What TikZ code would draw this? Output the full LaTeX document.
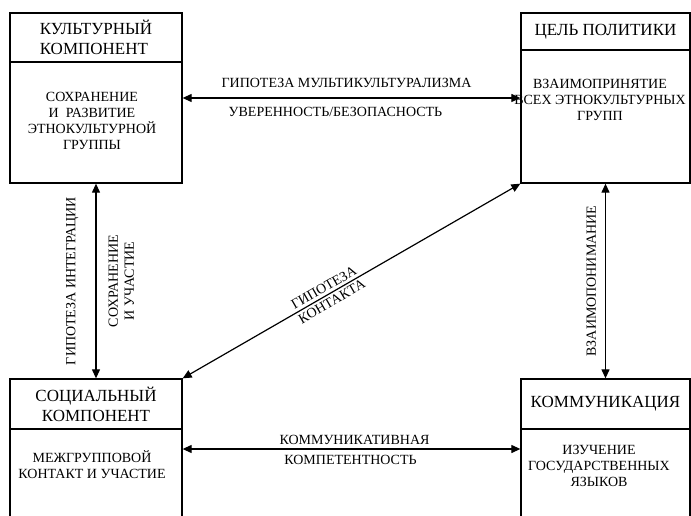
\documentclass[tikz,border=0pt]{standalone}
\usepackage{fontspec}
\setmainfont{Liberation Serif}
\usetikzlibrary{arrows.meta,positioning}

\begin{document}
\begin{tikzpicture}[x=1pt,y=-1pt,
		box/.style={draw,line width=1.3pt,inner sep=0pt},
		head/.style={draw,line width=1.3pt,anchor=north,align=center,inner sep=0pt,font=\fontsize{17}{20}\selectfont},
		txt/.style={align=center,inner sep=0pt,font=\fontsize{14}{16}\selectfont},
		lbl/.style={inner sep=0pt,font=\fontsize{14}{16}\selectfont},
		link/.style={{Triangle[length=9pt,width=8pt]}-{Triangle[length=9pt,width=8pt]},line width=1.2pt}]
	\useasboundingbox (0,0) rectangle (691,516);
	\clip (0,0) rectangle (691,516);
	\node[box,minimum width=172pt,minimum height=170pt] (cult) at (96,98) {};
	\node[box,minimum width=169pt,minimum height=170pt] (goal) at (605.5,98) {};
	\node[box,minimum width=172pt,minimum height=140pt] (soc) at (96,449) {};
	\node[box,minimum width=169pt,minimum height=140pt] (comm) at (605.5,449) {};
	\node[head,align=left,minimum width=172pt,minimum height=49pt] (cultH) at (cult.north) {КУЛЬТУРНЫЙ\\КОМПОНЕНТ};
	\node[head,minimum width=169pt,minimum height=37pt] (goalH) at (goal.north) {ЦЕЛЬ ПОЛИТИКИ};
	\node[head,minimum width=172pt,minimum height=50pt] (socH) at (soc.north) {СОЦИАЛЬНЫЙ\\КОМПОНЕНТ};
	\node[head,minimum width=169pt,minimum height=50pt] (commH) at (comm.north) {КОММУНИКАЦИЯ};
	\node[txt] (cultT) at (92,121) {СОХРАНЕНИЕ\\И~~РАЗВИТИЕ\\ЭТНОКУЛЬТУРНОЙ\\ГРУППЫ};
	\node[txt] (goalT) at (600,100) {ВЗАИМОПРИНЯТИЕ\\ВСЕХ ЭТНОКУЛЬТУРНЫХ\\ГРУПП};
	\node[txt] (socT) at (92,465) {МЕЖГРУППОВОЙ\\КОНТАКТ И УЧАСТИЕ};
	\node[txt] (commT) at (599,466) {ИЗУЧЕНИЕ\\ГОСУДАРСТВЕННЫХ\\ЯЗЫКОВ};
	\draw[link] (cult) -- node[lbl,above=10pt,xshift=-5pt] (multi) {ГИПОТЕЗА МУЛЬТИКУЛЬТУРАЛИЗМА}
		node[lbl,below=9pt,xshift=-16pt] (safe) {УВЕРЕННОСТЬ/БЕЗОПАСНОСТЬ} (goal);
	\draw[link] (soc) -- node[lbl,above=4pt,xshift=3pt] (commun) {КОММУНИКАТИВНАЯ}
		node[lbl,below=6pt,xshift=-1pt] (compet) {КОМПЕТЕНТНОСТЬ} (comm);
	\draw[link] (soc) -- node[lbl,sloped,above=17pt] (integr) {ГИПОТЕЗА ИНТЕГРАЦИИ}
		node[lbl,sloped,below=12pt,align=center] (keep) {СОХРАНЕНИЕ\\И УЧАСТИЕ} (cult);
	\draw[link] (comm) -- node[lbl,sloped,above=9pt] (mutual) {ВЗАИМОПОНИМАНИЕ} (goal);
	\draw[link] (soc.north east) -- node[lbl,pos=0.43,sloped,align=center] (contact) {ГИПОТЕЗА\\КОНТАКТА} (goal.south west);
\end{tikzpicture}
\end{document}
